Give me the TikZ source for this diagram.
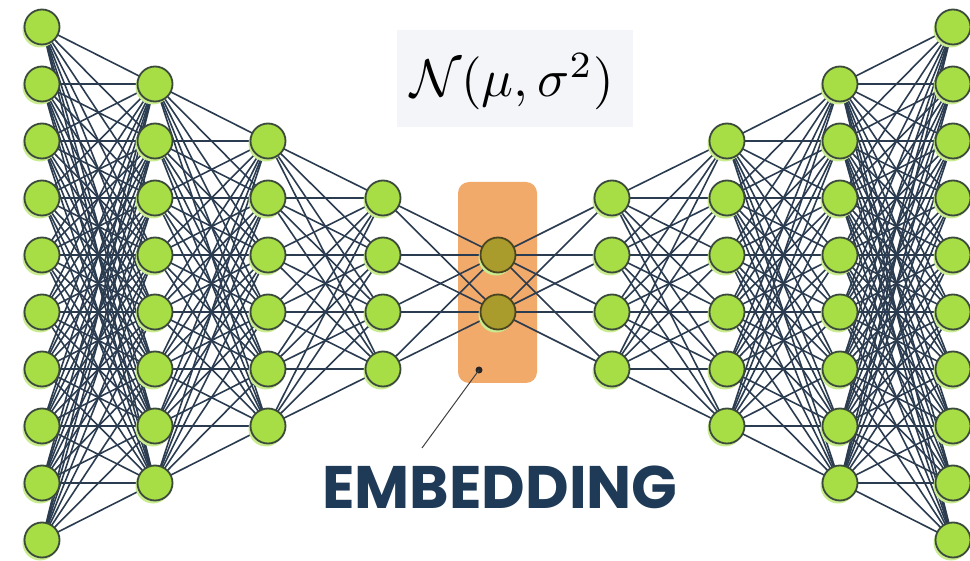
\documentclass[tikz,border=0pt]{standalone}
\usepackage{fontspec}
\newfontfamily\labelfont{Poppins}
\usetikzlibrary{shadows}
\definecolor{nodefill}{HTML}{A8DE45}
\definecolor{nodeglow}{HTML}{C9EC8E}
\definecolor{nodeedge}{HTML}{3B4A3C}
\definecolor{codefill}{HTML}{A99B2C}
\definecolor{codeedge}{HTML}{4A4420}
\definecolor{wire}{HTML}{2B3C50}
\definecolor{band}{HTML}{F2AA6B}
\definecolor{navy}{HTML}{1E3A56}
\definecolor{formulabg}{HTML}{F4F5F8}
\pgfdeclarelayer{bandlayer}
\pgfdeclarelayer{wirelayer}
\pgfsetlayers{bandlayer,wirelayer,main}
\tikzset{
  neuron/.style={circle, minimum size=35pt, inner sep=0pt, fill=nodefill,
    draw=nodeedge, line width=1.8pt,
    drop shadow={shadow xshift=-2pt, shadow yshift=-3pt, fill=nodeglow, opacity=1}},
  codeneuron/.style={neuron, fill=codefill, draw=codeedge},
  wireline/.style={draw=wire, line width=1.6pt},
}
\begin{document}
\begin{tikzpicture}[x=1pt, y=-1pt]
\useasboundingbox (0,0) rectangle (970,561);

% layers: index / x position / number of units
\foreach \i/\x/\n in {1/42/10, 2/155/8, 3/268/6, 4/383/4, 5/498/2, 6/612/4, 7/727/6, 8/840/8, 9/953/10} {
  \foreach \k in {1,...,\n} {
    \pgfmathsetmacro{\yy}{283.5 + (\k - (\n+1)/2)*57}
    \ifnum\i=5
      \node[codeneuron] (L\i-\k) at (\x,\yy) {};
    \else
      \node[neuron] (L\i-\k) at (\x,\yy) {};
    \fi
  }
}

% fully connected wiring between neighbouring layers
\begin{pgfonlayer}{wirelayer}
\foreach \i/\n/\m in {1/10/8, 2/8/6, 3/6/4, 4/4/2, 5/2/4, 6/4/6, 7/6/8, 8/8/10} {
  \pgfmathtruncatemacro{\j}{\i+1}
  \foreach \a in {1,...,\n} {
    \foreach \b in {1,...,\m} {
      \draw[wireline] (L\i-\a.center) -- (L\j-\b.center);
    }
  }
}
\end{pgfonlayer}

% latent band behind the bottleneck
\begin{pgfonlayer}{bandlayer}
\node[fill=band, rounded corners=11pt, minimum width=79pt, minimum height=201pt, inner sep=0pt] (band) at (497.5,282.5) {};
\end{pgfonlayer}

% distribution label
\node[fill=formulabg, minimum width=236pt, minimum height=97pt, inner sep=0pt] (dist) at (515,78.5) {};
\node[inner sep=0pt, scale=5.3] (formula) at ([xshift=-3pt, yshift=-3pt]dist.center) {$\mathcal{N}(\mu,\sigma^2)$};

% pointer to the embedding label
\node[circle, fill=black!85, minimum size=7pt, inner sep=0pt] (dot) at (479,370) {};
\coordinate (tip) at (422,448);
\draw[draw=black!75, line width=1pt] (dot.center) -- (tip);

\node[inner sep=0pt, text=navy] (emb) at (500,487) {\fontsize{60}{70}\selectfont\labelfont\bfseries EMBEDDING};
\end{tikzpicture}
\end{document}
